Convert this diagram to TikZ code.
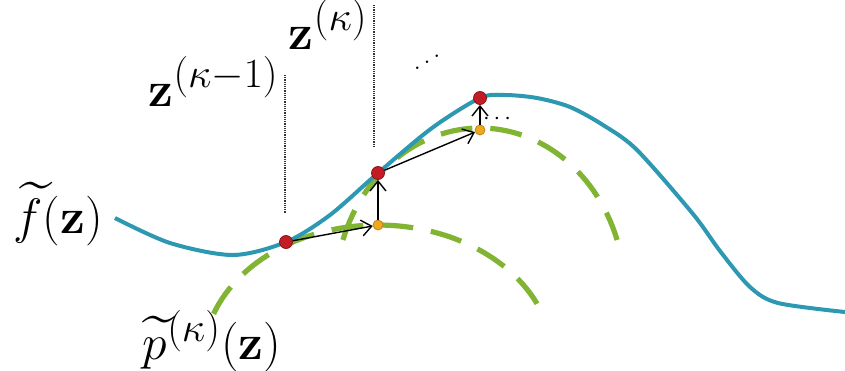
\documentclass[tikz,border=0pt]{standalone}
\usepackage{xcolor}
\usepackage{amsmath}
\usepackage{amssymb}
\usetikzlibrary{arrows.meta}

\definecolor{fcurve}{RGB}{44,152,178}
\definecolor{pcurve}{RGB}{128,180,50}
\definecolor{ptred}{RGB}{196,28,38}
\definecolor{ptorange}{RGB}{238,168,30}

\begin{document}
\begin{tikzpicture}[x=0.5pt, y=-0.5pt, every node/.style={font=\fontsize{30}{34}\selectfont},
  redpt/.style={circle, draw=ptred!70!black, fill=ptred, inner sep=0pt, minimum size=6.5pt},
  orangept/.style={circle, draw=ptorange!80!black, fill=ptorange, inner sep=0pt, minimum size=5pt},
  fline/.style={fcurve, line width=2pt},
  pline/.style={pcurve, line width=2.6pt, dash pattern=on 16pt off 9pt},
  iterline/.style={black!80, line width=1.4pt, dash pattern=on 0.6pt off 0.5pt},
  stepline/.style={->, >={Straight Barb[length=5pt, width=8pt]}, line width=0.7pt}]
  \useasboundingbox (0,0) rectangle (845,370);

  % surrogate bounds
  \draw [pline] plot[domain=160:20, samples=60] ({378+175*cos(\x)}, {360-135*sin(\x)});
  \draw [pline] plot[domain=161:19, samples=60] ({480+145*cos(\x)}, {294-166*sin(\x)});

  % objective
  \draw [fline] plot[smooth, tension=0.5] coordinates {(115,218) (170,243) (233,255) (286,242) (330,215) (378,173) (432,128) (480,98) (505,95) (537,98) (570,107) (603,125) (637,150) (693,214) (720,251) (750,287) (778,303) (845,312)};

  % iterates
  \draw [iterline] (285,75) -- (285,213);
  \draw [iterline] (374,5) -- (374,147);

  \node (x0) [redpt] at (286,242) {};
  \node (y1) [orangept] at (378,225) {};
  \node (x1) [redpt] at (378,173) {};
  \node (y2) [orangept] at (480,130) {};
  \node (x2) [redpt] at (480,98) {};

  \draw [stepline] (x0) -- (y1);
  \draw [stepline] (y1) -- (x1);
  \draw [stepline] (x1) -- (y2);
  \draw [stepline] (y2) -- (x2);

  % labels
  \node (zprev) [anchor=base east, inner sep=1pt] at (281,106) {$\mathbf{z}^{(\kappa-1)}$};
  \node (zcur) [anchor=base east, inner sep=1pt] at (370,49) {$\mathbf{z}^{(\kappa)}$};
  \node (fz) [inner sep=1pt] at (58,214) {$\widetilde{f}(\mathbf{z})$};
  \node (pz) [inner sep=1pt] at (212,341) {$\widetilde{p}^{(\kappa)}(\mathbf{z})$};
  \node (vdots) [font=\fontsize{13}{15}\selectfont] at (427,56) {\reflectbox{$\ddots$}};
  \node (hdots) [font=\fontsize{13}{15}\selectfont] at (499,119) {$\cdots$};
\end{tikzpicture}
\end{document}
